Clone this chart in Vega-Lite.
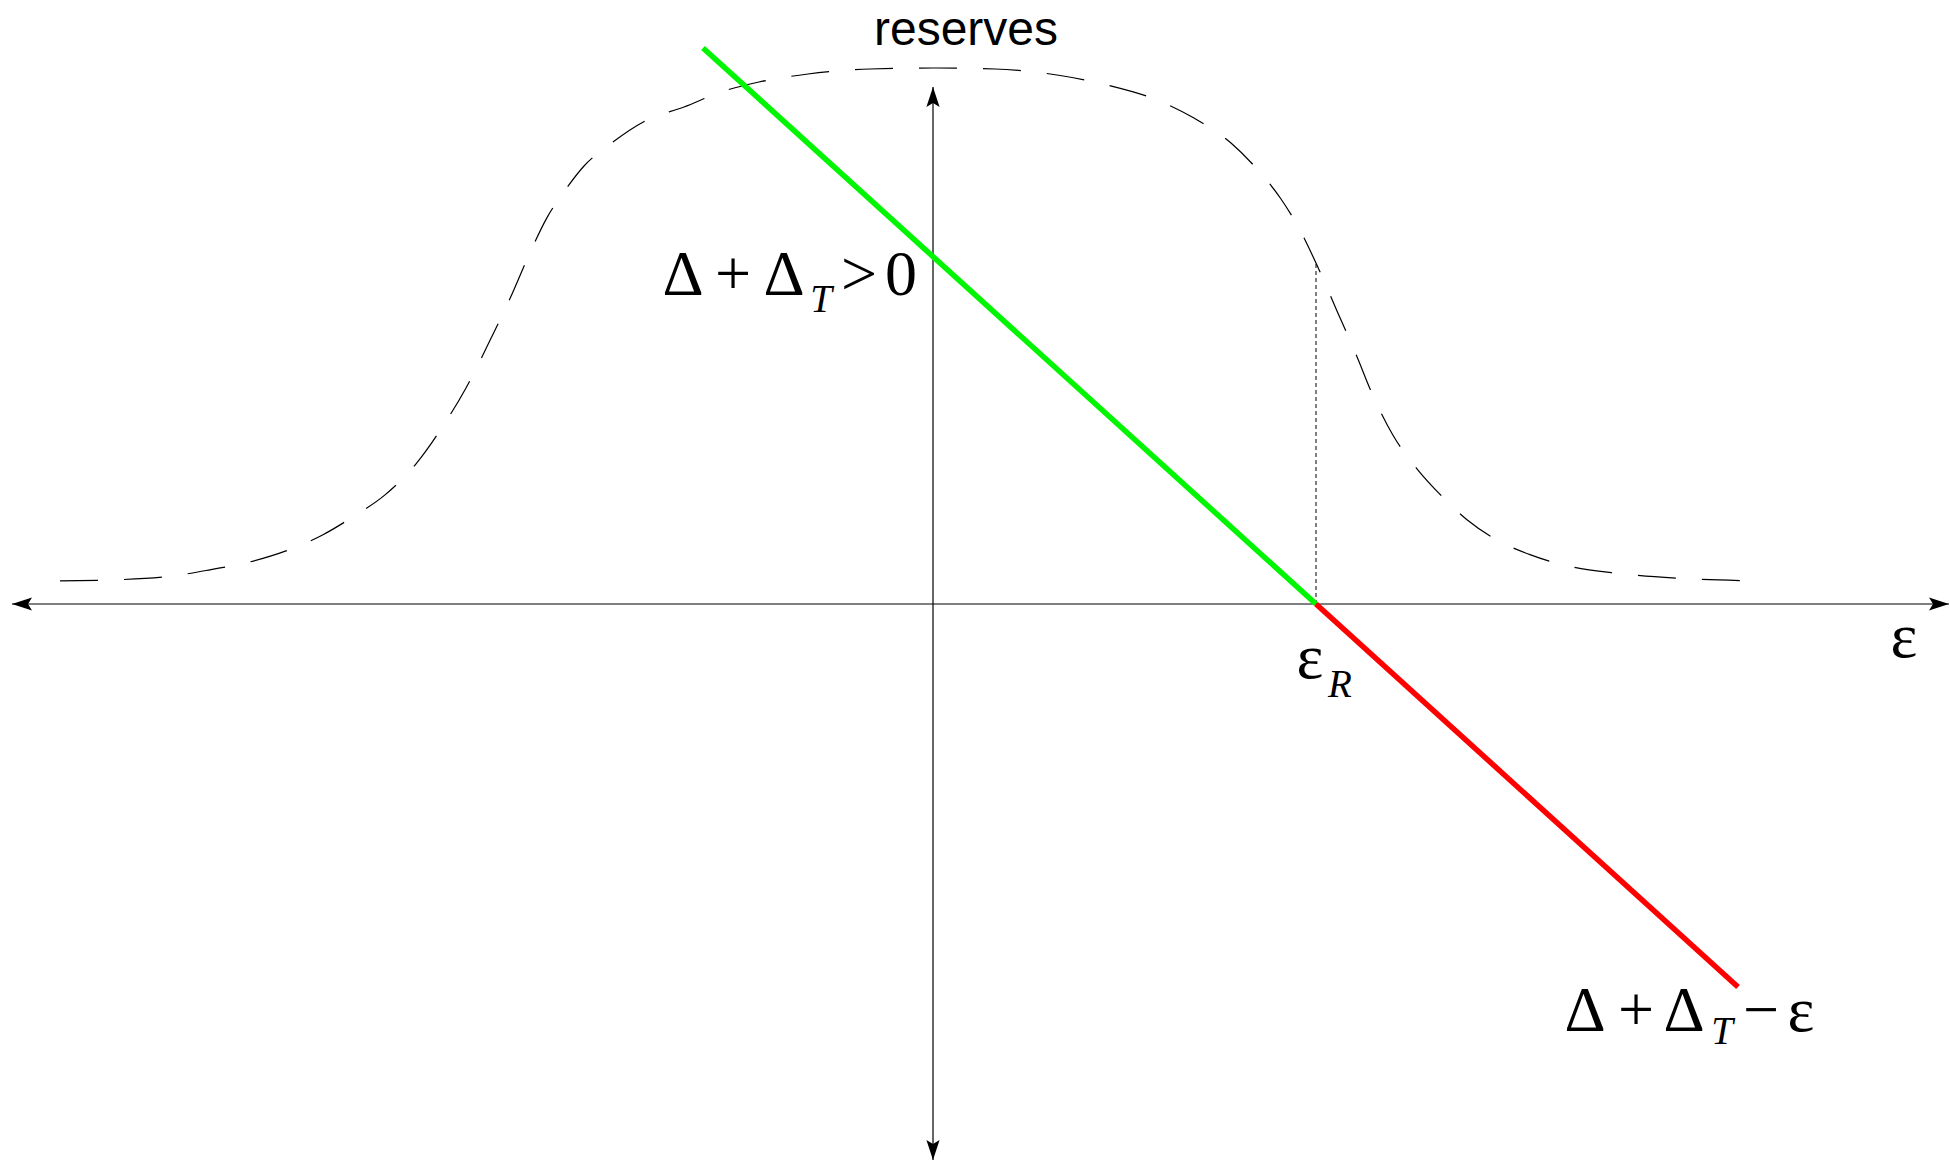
{
  "$schema": "https://vega.github.io/schema/vega-lite/v6.json",
  "autosize": {"type": "fit", "contains": "padding"},
  "width": 1950,
  "height": 1162,
  "padding": 0,
  "background": "white",
  "config": {"view": {"stroke": null}},
  "datasets": {
    "reserves": [
      {"eps": -8.73, "r": 0.232}, {"eps": -8.09, "r": 0.245}, {"eps": -7.59, "r": 0.282},
      {"eps": -7.22, "r": 0.344}, {"eps": -6.84, "r": 0.419}, {"eps": -6.47, "r": 0.531},
      {"eps": -6.10, "r": 0.693}, {"eps": -5.79, "r": 0.879}, {"eps": -5.48, "r": 1.091},
      {"eps": -5.16, "r": 1.414}, {"eps": -4.92, "r": 1.750}, {"eps": -4.67, "r": 2.160},
      {"eps": -4.42, "r": 2.657}, {"eps": -4.23, "r": 3.055}, {"eps": -4.04, "r": 3.491},
      {"eps": -3.86, "r": 3.864}, {"eps": -3.67, "r": 4.150}, {"eps": -3.49, "r": 4.380},
      {"eps": -3.24, "r": 4.590}, {"eps": -2.86, "r": 4.840}, {"eps": -2.49, "r": 4.970},
      {"eps": -2.12, "r": 5.120}, {"eps": -1.74, "r": 5.220}, {"eps": -1.25, "r": 5.300},
      {"eps": -0.63, "r": 5.350}, {"eps": 0.00, "r": 5.360}, {"eps": 0.62, "r": 5.350},
      {"eps": 1.24, "r": 5.290}, {"eps": 1.74, "r": 5.190}, {"eps": 2.24, "r": 5.040},
      {"eps": 2.61, "r": 4.859}, {"eps": 2.98, "r": 4.610}, {"eps": 3.23, "r": 4.361},
      {"eps": 3.48, "r": 4.050}, {"eps": 3.67, "r": 3.739}, {"eps": 3.85, "r": 3.366},
      {"eps": 4.04, "r": 2.931}, {"eps": 4.23, "r": 2.496}, {"eps": 4.41, "r": 2.060},
      {"eps": 4.60, "r": 1.687}, {"eps": 4.85, "r": 1.339}, {"eps": 5.10, "r": 1.066},
      {"eps": 5.34, "r": 0.842}, {"eps": 5.59, "r": 0.668}, {"eps": 5.97, "r": 0.494},
      {"eps": 6.34, "r": 0.382}, {"eps": 6.84, "r": 0.307}, {"eps": 7.46, "r": 0.257},
      {"eps": 8.17, "r": 0.232}
    ],
    "axes": [
      {"x": -9.21, "x2": 10.16, "y": 0, "y2": 0},
      {"x": 0, "x2": 0, "y": 5.17, "y2": -5.56}
    ],
    "arrows": [
      {"dir": "right", "x": 10.16, "y": 0},
      {"dir": "left", "x": -9.21, "y": 0},
      {"dir": "up", "x": 0, "y": 5.17},
      {"dir": "down", "x": 0, "y": -5.56}
    ],
    "gap": [
      {"branch": "surplus", "eps": -2.30, "value": 5.56},
      {"branch": "surplus", "eps": 3.83, "value": 0},
      {"branch": "deficit", "eps": 3.83, "value": 0},
      {"branch": "deficit", "eps": 8.05, "value": -3.83}
    ],
    "threshold": [{"eps": 3.83, "lo": 0, "hi": 3.41}],
    "title": [{"t": "reserves", "x": 0.33, "y": 5.59}],
    "math": [
      {"t": "Δ", "x": -2.50, "y": 3.09},
      {"t": "+", "x": -2.00, "y": 3.09},
      {"t": "Δ", "x": -1.49, "y": 3.09},
      {"t": ">", "x": -0.74, "y": 3.09},
      {"t": "0", "x": -0.32, "y": 3.09},
      {"t": "ε", "x": 3.77, "y": -0.74},
      {"t": "ε", "x": 9.71, "y": -0.53},
      {"t": "Δ", "x": 6.52, "y": -4.27},
      {"t": "+", "x": 7.03, "y": -4.27},
      {"t": "Δ", "x": 7.51, "y": -4.27},
      {"t": "−", "x": 8.28, "y": -4.27},
      {"t": "ε", "x": 8.68, "y": -4.27}
    ],
    "subscripts": [
      {"t": "T", "x": -1.12, "y": 2.92},
      {"t": "R", "x": 4.07, "y": -0.93},
      {"t": "T", "x": 7.89, "y": -4.40}
    ]
  },
  "encoding": {
    "x": {"type": "quantitative", "scale": {"domain": [-9.33, 10.17], "nice": false, "zero": false}, "axis": null},
    "y": {"type": "quantitative", "scale": {"domain": [-5.58, 6.04], "nice": false, "zero": false}, "axis": null}
  },
  "layer": [
    {
      "data": {"name": "reserves"},
      "mark": {"type": "line", "color": "black", "strokeWidth": 1.2, "strokeDash": [38, 26], "interpolate": "monotone"},
      "encoding": {
        "x": {"field": "eps", "type": "quantitative"},
        "y": {"field": "r", "type": "quantitative"}
      }
    },
    {
      "data": {"name": "axes"},
      "mark": {"type": "rule", "color": "black", "strokeWidth": 1.2},
      "encoding": {
        "x": {"field": "x", "type": "quantitative"},
        "x2": {"field": "x2"},
        "y": {"field": "y", "type": "quantitative"},
        "y2": {"field": "y2"}
      }
    },
    {
      "data": {"name": "arrows"},
      "mark": {"type": "point", "filled": true, "color": "black", "opacity": 1, "size": 1600},
      "encoding": {
        "x": {"field": "x", "type": "quantitative"},
        "y": {"field": "y", "type": "quantitative"},
        "shape": {
          "field": "dir",
          "type": "nominal",
          "legend": null,
          "scale": {
            "domain": ["right", "left", "up", "down"],
            "range": [
              "M0,0L-1,-0.33L-0.8,0L-1,0.33Z",
              "M0,0L1,-0.33L0.8,0L1,0.33Z",
              "M0,0L-0.33,1L0,0.8L0.33,1Z",
              "M0,0L-0.33,-1L0,-0.8L0.33,-1Z"
            ]
          }
        }
      }
    },
    {
      "data": {"name": "threshold"},
      "mark": {"type": "rule", "color": "black", "strokeWidth": 1, "strokeDash": [4, 3]},
      "encoding": {
        "x": {"field": "eps", "type": "quantitative"},
        "y": {"field": "lo", "type": "quantitative"},
        "y2": {"field": "hi"}
      }
    },
    {
      "data": {"name": "gap"},
      "mark": {"type": "line", "strokeWidth": 5.5, "strokeCap": "butt"},
      "encoding": {
        "x": {"field": "eps", "type": "quantitative"},
        "y": {"field": "value", "type": "quantitative"},
        "color": {
          "field": "branch",
          "type": "nominal",
          "legend": null,
          "scale": {"domain": ["surplus", "deficit"], "range": ["#00f500", "#ff0000"]}
        }
      }
    },
    {
      "data": {"name": "title"},
      "mark": {"type": "text", "font": "Liberation Sans", "fontSize": 48, "align": "center", "baseline": "alphabetic", "color": "black"},
      "encoding": {
        "x": {"field": "x", "type": "quantitative"},
        "y": {"field": "y", "type": "quantitative"},
        "text": {"field": "t"}
      }
    },
    {
      "data": {"name": "math"},
      "mark": {"type": "text", "font": "Liberation Serif", "fontSize": 64, "align": "center", "baseline": "alphabetic", "color": "black"},
      "encoding": {
        "x": {"field": "x", "type": "quantitative"},
        "y": {"field": "y", "type": "quantitative"},
        "text": {"field": "t"}
      }
    },
    {
      "data": {"name": "subscripts"},
      "mark": {"type": "text", "font": "Liberation Serif", "fontStyle": "italic", "fontSize": 39, "align": "center", "baseline": "alphabetic", "color": "black"},
      "encoding": {
        "x": {"field": "x", "type": "quantitative"},
        "y": {"field": "y", "type": "quantitative"},
        "text": {"field": "t"}
      }
    }
  ]
}
